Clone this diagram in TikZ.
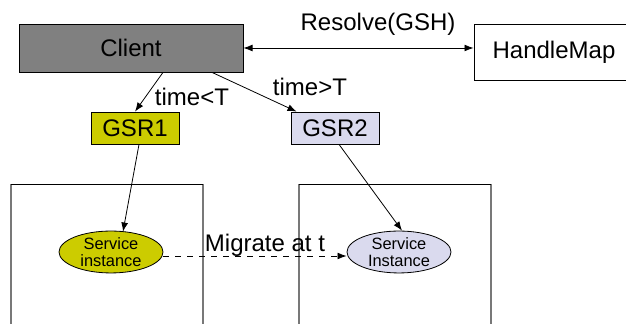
\documentclass[tikz,border=0pt]{standalone}
\usepackage{fontspec}
\setmainfont{Liberation Sans}
\usepackage{tikz}
\usetikzlibrary{shapes, arrows.meta, positioning, calc}
\definecolor{clientgray}{RGB}{128, 128, 128}
\definecolor{oliveyellow}{RGB}{204, 204, 0}
\definecolor{paleviolet}{RGB}{218, 218, 238}
\definecolor{sidegray}{RGB}{120, 120, 120}
\tikzset{
  >=Stealth,
  callarrow/.style={-{Latex[length=1.6mm, width=1.2mm]}, thin, black},
  migratearrow/.style={-{Latex[length=1.6mm, width=1.2mm]}, thin, black, dashed},
  bigtxt/.style={font=\fontsize{12}{14}\selectfont},
  smalltxt/.style={font=\fontsize{8.2}{8.8}\selectfont},
  hostbox/.style={draw, thin, inner sep=0pt}
}

\begin{document}
\begin{tikzpicture}[x=0.5pt, y=-0.5pt]
    \useasboundingbox (0, 0) rectangle (626, 324);
    \clip (0, 0) rectangle (626, 324);
    % top row
    \node (client) [hostbox, bigtxt, fill=clientgray, minimum width=112pt, minimum height=24pt] at (131, 48) {Client};
    \node (hmap) [hostbox, bigtxt, fill=white, minimum width=80pt, minimum height=28pt] at (554, 52) {HandleMap};
    \node (gsr1) [hostbox, bigtxt, fill=oliveyellow, minimum width=44pt, minimum height=16pt] at (135, 128) {GSR1};
    \node (gsr2) [hostbox, bigtxt, fill=paleviolet, minimum width=44pt, minimum height=16pt] at (335, 128) {GSR2};

    % the two hosts, open at the bottom
    \draw[sidegray, line width=0.8pt] (11, 330) -- (11, 184);
    \draw[sidegray, line width=0.8pt] (203, 184) -- (203, 330);
    \draw[thin] (11, 184) -- (203, 184);
    \draw[sidegray, line width=0.8pt] (299, 330) -- (299, 184);
    \draw[sidegray, line width=0.8pt] (491, 184) -- (491, 330);
    \draw[thin] (299, 184) -- (491, 184);

    \node (ell1) [ellipse, draw, thin, smalltxt, fill=oliveyellow, inner sep=0pt, minimum width=52pt, minimum height=19.5pt, align=center] at (111, 252) {Service\\instance};
    \node (ell2) [ellipse, draw, thin, smalltxt, fill=paleviolet, inner sep=0pt, minimum width=52pt, minimum height=19.5pt, align=center] at (399, 252) {Service\\Instance};

    \node (resolve) [bigtxt] at (378, 24) {Resolve(GSH)};
    \node (tless) [bigtxt] at (192, 97) {time<T};
    \node (tmore) [bigtxt] at (310, 87) {time>T};
    \node (migrate) [bigtxt] at (265, 245) {Migrate at t};

    \draw[{Latex[length=1.6mm, width=1.2mm]}-{Latex[length=1.6mm, width=1.2mm]}, thin] (client.east) -- (client.east -| hmap.west);
    \draw[callarrow] ($(client.south)+(32, 0)$) -- (gsr1.north);
    \draw[callarrow] ($(client.south)+(81, 0)$) -- ($(gsr2.north west)+(6, 0)$);
    \draw[callarrow] ($(gsr1.south)+(4, 0)$) -- ($(ell1.north)+(12, 1)$);
    \draw[callarrow] ($(gsr2.south)+(4, 0)$) -- ($(ell2.north)+(3, 0)$);
    \draw[migratearrow] ($(ell1.east)+(0, 4)$) -- ($(ell2.west)+(0, 4)$);
\end{tikzpicture}
\end{document}
